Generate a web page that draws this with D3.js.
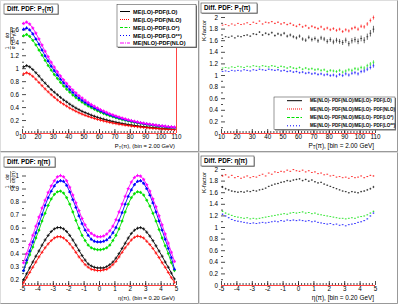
<!DOCTYPE html>
<html>
<head>
<meta charset="utf-8">
<script src="https://cdn.jsdelivr.net/npm/d3@7"></script>
<style>
body { margin: 0; background: #fff; }
svg text { font-family: "Liberation Sans", Arial, sans-serif; }
</style>
</head>
<body>
<svg id="c" width="399" height="304"></svg>
<script>
// ---- data ----
// bin centres: 2 GeV bins on 10..110, 0.2 bins on -5..5
var ptBins = d3.range(50).map(function(i) { return 11 + 2 * i; });
var etaBins = d3.range(50).map(function(i) { return -4.9 + 0.2 * i; });

var seriesNames = ["ME(LO)-PDF(LO)", "ME(LO)-PDF(NLO)", "ME(LO)-PDF(LO*)", "ME(LO)-PDF(LO**)", "ME(NLO)-PDF(NLO)"];
var ratioNames = ["ME(NLO)- PDF(NLO)/ME(LO)- PDF(LO)", "ME(NLO)- PDF(NLO)/ME(LO)- PDF(NLO)",
                  "ME(NLO)- PDF(NLO)/ME(LO)- PDF(LO*)", "ME(NLO)- PDF(NLO)/ME(LO)- PDF(LO**)"];
var colors = ["#000000", "#ff0000", "#00e000", "#0000ff", "#ff00ff"];
var dashes = ["none", "1,1", "3,1.5", "1,2", "4,1,1,1"];

// 1/sigma dsigma/dpT
var ptBlack = [1.02,1.04,1.02,0.98,0.93,0.88,0.82,0.77,0.72,0.67,0.63,0.59,0.55,0.51,0.48,0.445,0.415,0.385,0.36,0.335,0.315,0.295,0.275,0.258,0.242,0.227,0.213,0.2,0.188,0.177,0.166,0.156,0.147,0.138,0.13,0.123,0.116,0.109,0.103,0.097,0.092,0.087,0.082,0.078,0.074,0.07,0.066,0.063,0.06,0.057];
var ptRed = [0.91,0.93,0.91,0.875,0.83,0.78,0.73,0.68,0.635,0.59,0.55,0.51,0.475,0.445,0.415,0.385,0.36,0.335,0.312,0.292,0.273,0.256,0.24,0.225,0.211,0.198,0.186,0.175,0.164,0.154,0.145,0.137,0.129,0.122,0.115,0.108,0.102,0.097,0.092,0.087,0.082,0.078,0.074,0.07,0.066,0.063,0.06,0.057,0.054,0.051];
var ptGreen = [1.5,1.52,1.49,1.43,1.36,1.28,1.2,1.12,1.04,0.97,0.9,0.84,0.78,0.725,0.675,0.63,0.585,0.545,0.51,0.475,0.445,0.415,0.39,0.365,0.342,0.32,0.3,0.282,0.265,0.249,0.234,0.22,0.207,0.195,0.184,0.173,0.163,0.154,0.145,0.137,0.13,0.123,0.116,0.11,0.104,0.098,0.093,0.088,0.084,0.08];
var ptBlue = [1.6,1.62,1.59,1.53,1.45,1.37,1.28,1.19,1.11,1.03,0.96,0.895,0.83,0.775,0.72,0.67,0.625,0.58,0.54,0.505,0.472,0.442,0.414,0.388,0.364,0.341,0.32,0.3,0.282,0.265,0.249,0.234,0.22,0.207,0.195,0.184,0.174,0.164,0.155,0.146,0.138,0.131,0.124,0.117,0.111,0.105,0.1,0.095,0.09,0.086];
var ptMag = [1.69,1.71,1.68,1.62,1.54,1.45,1.355,1.26,1.175,1.09,1.015,0.945,0.88,0.82,0.765,0.712,0.664,0.62,0.578,0.54,0.504,0.471,0.44,0.412,0.386,0.361,0.338,0.317,0.297,0.279,0.262,0.246,0.231,0.217,0.204,0.192,0.181,0.17,0.16,0.151,0.143,0.135,0.128,0.121,0.115,0.109,0.104,0.099,0.094,0.09];

// 1/sigma dsigma/deta
var etaBlack = [0.2,0.245,0.29,0.335,0.38,0.42,0.465,0.505,0.54,0.57,0.59,0.6,0.6,0.59,0.57,0.54,0.505,0.465,0.425,0.385,0.35,0.32,0.305,0.295,0.29,
                0.29,0.29,0.3,0.315,0.335,0.365,0.4,0.44,0.48,0.52,0.555,0.58,0.595,0.6,0.59,0.565,0.535,0.5,0.46,0.42,0.38,0.335,0.295,0.25,0.205];
var etaRed = [0.175,0.215,0.255,0.295,0.335,0.375,0.41,0.445,0.475,0.5,0.52,0.53,0.53,0.52,0.5,0.475,0.445,0.41,0.375,0.345,0.315,0.295,0.28,0.275,0.27,
              0.27,0.275,0.28,0.295,0.315,0.34,0.375,0.41,0.445,0.475,0.505,0.525,0.535,0.53,0.52,0.495,0.47,0.44,0.405,0.37,0.33,0.295,0.255,0.215,0.18];
var etaGreen = [0.27,0.33,0.39,0.45,0.52,0.58,0.65,0.71,0.77,0.82,0.855,0.875,0.88,0.865,0.83,0.78,0.72,0.655,0.595,0.54,0.5,0.465,0.445,0.435,0.43,
                0.43,0.435,0.445,0.465,0.5,0.54,0.59,0.65,0.72,0.78,0.83,0.86,0.875,0.87,0.85,0.81,0.765,0.71,0.65,0.585,0.52,0.46,0.4,0.33,0.27];
var etaBlue = [0.27,0.35,0.42,0.49,0.56,0.63,0.7,0.77,0.83,0.88,0.92,0.95,0.96,0.955,0.925,0.875,0.815,0.755,0.69,0.63,0.58,0.54,0.51,0.495,0.49,
               0.49,0.495,0.505,0.525,0.56,0.6,0.655,0.715,0.78,0.84,0.89,0.93,0.955,0.96,0.94,0.9,0.85,0.79,0.72,0.65,0.58,0.51,0.44,0.37,0.28];
var etaMag = [0.33,0.4,0.47,0.54,0.61,0.68,0.75,0.81,0.87,0.92,0.96,0.99,1.0,0.99,0.96,0.91,0.85,0.79,0.73,0.67,0.62,0.58,0.555,0.54,0.53,
              0.53,0.535,0.55,0.575,0.61,0.66,0.72,0.78,0.84,0.9,0.95,0.985,1.0,0.995,0.97,0.93,0.88,0.82,0.76,0.69,0.62,0.55,0.48,0.41,0.34];

// K-factors vs pT
var kPtBlack = [1.63,1.66,1.65,1.67,1.64,1.67,1.66,1.68,1.69,1.67,1.71,1.7,1.74,1.69,1.72,1.7,1.73,1.68,1.71,1.69,1.72,1.67,1.69,1.66,1.64,1.67,1.62,1.6,1.65,1.61,1.63,1.59,1.64,1.62,1.58,1.61,1.57,1.6,1.58,1.56,1.6,1.54,1.59,1.61,1.58,1.63,1.6,1.66,1.72,1.79];
var kPtRed = [1.86,1.87,1.85,1.88,1.86,1.89,1.87,1.88,1.9,1.87,1.91,1.89,1.93,1.88,1.91,1.9,1.92,1.89,1.91,1.88,1.9,1.87,1.89,1.86,1.84,1.87,1.83,1.85,1.81,1.84,1.82,1.8,1.83,1.79,1.81,1.78,1.8,1.77,1.79,1.75,1.78,1.76,1.8,1.82,1.79,1.84,1.83,1.88,1.94,1.99];
var kPtGreen = [1.12,1.13,1.12,1.14,1.13,1.15,1.14,1.13,1.15,1.14,1.16,1.15,1.14,1.16,1.15,1.14,1.16,1.15,1.13,1.15,1.14,1.12,1.14,1.12,1.11,1.13,1.1,1.12,1.1,1.11,1.09,1.1,1.08,1.09,1.06,1.08,1.07,1.06,1.08,1.05,1.07,1.09,1.08,1.11,1.1,1.13,1.12,1.16,1.19,1.22];
var kPtBlue = [1.06,1.07,1.06,1.08,1.07,1.08,1.07,1.09,1.08,1.07,1.09,1.08,1.1,1.09,1.08,1.1,1.09,1.08,1.09,1.07,1.08,1.06,1.07,1.05,1.06,1.04,1.05,1.03,1.04,1.02,1.03,1.01,1.02,1.0,1.01,0.99,1.0,0.98,1.01,0.99,1.02,1.0,1.03,1.04,1.02,1.06,1.07,1.1,1.13,1.16];
var kPtErr = [0.008,0.008,0.008,0.009,0.009,0.01,0.01,0.011,0.012,0.012,0.013,0.014,0.015,0.016,0.017,0.018,0.019,0.02,0.021,0.022,0.023,0.024,0.025,0.026,0.027,0.028,0.03,0.031,0.032,0.033,0.034,0.035,0.036,0.037,0.038,0.039,0.04,0.041,0.042,0.043,0.044,0.045,0.046,0.047,0.048,0.05,0.052,0.054,0.056,0.058];

// K-factors vs eta
var kEtaBlack = [1.69,1.66,1.64,1.62,1.61,1.6,1.61,1.6,1.62,1.61,1.63,1.62,1.64,1.65,1.67,1.7,1.72,1.74,1.75,1.77,1.78,1.8,1.79,1.81,1.82,1.83,1.8,1.82,1.79,1.81,1.78,1.76,1.77,1.74,1.72,1.7,1.68,1.66,1.64,1.62,1.61,1.59,1.61,1.6,1.59,1.61,1.62,1.64,1.66,1.69];
var kEtaRed = [1.88,1.9,1.86,1.89,1.85,1.87,1.84,1.86,1.88,1.85,1.87,1.86,1.89,1.91,1.88,1.93,1.91,1.95,1.94,1.96,1.95,1.98,1.96,1.99,1.97,1.96,1.98,1.95,1.97,1.94,1.95,1.92,1.93,1.9,1.91,1.88,1.89,1.86,1.87,1.85,1.86,1.84,1.87,1.85,1.86,1.88,1.85,1.87,1.89,1.88];
var kEtaGreen = [1.27,1.24,1.22,1.2,1.18,1.17,1.16,1.15,1.16,1.14,1.15,1.14,1.15,1.16,1.17,1.18,1.19,1.2,1.21,1.22,1.23,1.22,1.24,1.25,1.24,1.25,1.26,1.24,1.25,1.23,1.24,1.22,1.21,1.2,1.19,1.18,1.17,1.16,1.15,1.15,1.14,1.15,1.16,1.15,1.17,1.18,1.19,1.21,1.24,1.27];
var kEtaBlue = [1.22,1.19,1.16,1.13,1.11,1.1,1.09,1.08,1.07,1.06,1.07,1.06,1.07,1.08,1.07,1.08,1.09,1.1,1.09,1.11,1.1,1.12,1.11,1.12,1.11,1.12,1.11,1.1,1.11,1.09,1.1,1.08,1.07,1.06,1.05,1.06,1.04,1.05,1.03,1.04,1.02,1.04,1.05,1.06,1.08,1.09,1.11,1.14,1.19,1.24];
var kEtaErr = [0.02,0.018,0.016,0.015,0.014,0.013,0.012,0.012,0.012,0.011,0.011,0.011,0.011,0.011,0.011,0.012,0.012,0.012,0.013,0.013,0.013,0.014,0.014,0.014,0.014,0.014,0.014,0.014,0.014,0.013,0.013,0.013,0.012,0.012,0.012,0.011,0.011,0.011,0.011,0.011,0.011,0.012,0.012,0.012,0.013,0.014,0.015,0.016,0.018,0.02];

// axis ticks
var ptTicks = [10,20,30,40,50,60,70,80,90,100,110];
var etaTicks = [-5,-4,-3,-2,-1,0,1,2,3,4,5];
var ptYTicks = [0,0.2,0.4,0.6,0.8,1,1.2,1.4,1.6];
var etaYTicks = [0.2,0.3,0.4,0.5,0.6,0.7,0.8,0.9,1];
var kYTicks = [0,0.2,0.4,0.6,0.8,1,1.2,1.4,1.6,1.8,2];

var svg = d3.select("#c");
var FL = 22, FR = 176, FT = 17, FB = 133;   // frame inside each pad

function makePad(ox, oy) {
  var g = svg.append("g").attr("transform", "translate(" + ox + "," + oy + ")");
  g.append("rect").attr("x", 0.5).attr("y", 0.5).attr("width", 198).attr("height", 151)
    .attr("fill", "#fff").attr("stroke", "#ddd");
  g.append("path").attr("d", "M198.5,0.5V151.5H0.5").attr("fill", "none").attr("stroke", "#999");
  return g;
}

function drawAxes(g, x, y, xt, xMinor, yt, yMinor) {
  g.append("g").attr("transform", "translate(0," + FB + ")")
    .call(d3.axisBottom(x).tickValues(xt).tickSize(-4).tickPadding(2).tickFormat(function(d) { return String(d); }));
  g.append("g").attr("transform", "translate(0," + FB + ")")
    .call(d3.axisBottom(x).tickValues(xMinor).tickSize(-2).tickFormat(""));
  g.append("g").attr("transform", "translate(" + FL + ",0)")
    .call(d3.axisLeft(y).tickValues(yt).tickSize(-4).tickPadding(3).tickFormat(function(d) { return String(d); }));
  g.append("g").attr("transform", "translate(" + FL + ",0)")
    .call(d3.axisLeft(y).tickValues(yMinor).tickSize(-2).tickFormat(""));
  g.selectAll(".domain").remove();
  g.selectAll(".tick line").attr("stroke", "#000").attr("stroke-width", 0.7);
  g.selectAll(".tick text").attr("font-size", "6.3px").attr("font-family", "Liberation Sans, Arial, sans-serif").attr("fill", "#000");
}

function titleBox(g, x0, y0, w, h, label, sub, rest) {
  g.append("rect").attr("x", x0 + 0.8).attr("y", y0 + 0.8).attr("width", w).attr("height", h).attr("fill", "#888");
  g.append("rect").attr("x", x0).attr("y", y0).attr("width", w).attr("height", h)
    .attr("fill", "#fff").attr("stroke", "#444").attr("stroke-width", 0.6);
  var t = g.append("text").attr("x", x0 + 3).attr("y", y0 + h - 2.6).attr("font-size", "6.3px").attr("font-weight", "bold");
  t.append("tspan").text(label);
  if (sub) t.append("tspan").attr("font-size", "4.5px").attr("dy", 1.3).text(sub);
  t.append("tspan").attr("dy", sub ? -1.3 : 0).text(rest);
}

function xTitle(g, main, sub, rest, size) {
  var t = g.append("text").attr("x", 175).attr("y", 147.5).attr("text-anchor", "end").attr("font-size", size + "px");
  t.append("tspan").text(main);
  if (sub) t.append("tspan").attr("font-size", (size * 0.7) + "px").attr("dy", 1.2).text(sub);
  t.append("tspan").attr("dy", sub ? -1.2 : 0).text(rest);
}

// fraction style y title: 1/sigma dsigma/dX
function fracTitle(g, px, py, denom, sub, rest) {
  var r = g.append("g").attr("transform", "translate(" + px + "," + py + ") rotate(-90)")
    .attr("font-size", "4.8px").attr("text-anchor", "middle");
  r.append("text").attr("x", 2.2).attr("y", -1.2).text("1");
  r.append("line").attr("x1", 0.4).attr("x2", 4).attr("y1", 0).attr("y2", 0).attr("stroke", "#000").attr("stroke-width", 0.4);
  r.append("text").attr("x", 2.2).attr("y", 4.2).text("\u03c3");
  var w = sub ? 17 : 12;
  r.append("text").attr("x", 6 + w / 2).attr("y", -1.2).text("d\u03c3");
  r.append("line").attr("x1", 6).attr("x2", 6 + w).attr("y1", 0).attr("y2", 0).attr("stroke", "#000").attr("stroke-width", 0.4);
  var t = r.append("text").attr("x", 6 + w / 2).attr("y", 4.2);
  t.append("tspan").text(denom);
  if (sub) t.append("tspan").attr("font-size", "3.4px").attr("dy", 0.8).text(sub);
  t.append("tspan").attr("dy", sub ? -0.8 : 0).text(rest);
}

function kTitle(g, px, py) {
  g.append("text").attr("transform", "translate(" + px + "," + py + ") rotate(-90)")
    .attr("text-anchor", "end").attr("font-size", "6px").text("K-factor");
}

var markerTypes = [d3.symbolCross, d3.symbolCross, d3.symbolCircle, d3.symbolTriangle, d3.symbolStar];

function drawCurves(g, x, y, xs, list, hw) {
  list.forEach(function(vals, k) {
    var pts = xs.map(function(v, i) { return [v, vals[i]]; });
    g.append("path").attr("d", d3.line().x(function(d) { return x(d[0]); }).y(function(d) { return y(d[1]); })(pts))
      .attr("fill", "none").attr("stroke", colors[k]).attr("stroke-width", 0.9);
    var m = g.append("g").attr("stroke", colors[k]).attr("stroke-width", 0.7);
    pts.forEach(function(p) {
      var cx = x(p[0]), cy = y(p[1]);
      m.append("line").attr("x1", x(p[0] - hw)).attr("x2", x(p[0] + hw)).attr("y1", cy).attr("y2", cy);
      m.append("line").attr("x1", cx).attr("x2", cx).attr("y1", cy - 1.6).attr("y2", cy + 1.6);
      if (k >= 2) {
        g.append("path").attr("d", d3.symbol().type(markerTypes[k]).size(4)())
          .attr("transform", "translate(" + cx + "," + cy + ")").attr("fill", colors[k]);
      }
    });
  });
}

function drawRatios(g, x, y, xs, list, errs, hw) {
  list.forEach(function(vals, k) {
    var m = g.append("g").attr("stroke", colors[k]).attr("stroke-width", 0.6);
    xs.forEach(function(v, i) {
      var cy = y(vals[i]);
      m.append("line").attr("x1", x(v - hw * 0.6)).attr("x2", x(v + hw * 0.6)).attr("y1", cy).attr("y2", cy);
      var e = (k === 0 ? 1 : 0.6) * (y(0) - y(errs[i]));
      m.append("line").attr("x1", x(v)).attr("x2", x(v)).attr("y1", cy - e).attr("y2", cy + e);
    });
  });
}

function legendBox(g, x0, y0, w, h, names, rowY, lx1, lx2, tx, fs) {
  g.append("rect").attr("x", x0 + 1).attr("y", y0 + 1).attr("width", w).attr("height", h).attr("fill", "#777");
  g.append("rect").attr("x", x0).attr("y", y0).attr("width", w).attr("height", h)
    .attr("fill", "#fff").attr("stroke", "#333").attr("stroke-width", 0.5);
  names.forEach(function(n, k) {
    g.append("line").attr("x1", lx1).attr("x2", lx2).attr("y1", rowY[k]).attr("y2", rowY[k])
      .attr("stroke", colors[k]).attr("stroke-width", 1).attr("stroke-dasharray", dashes[k]);
    g.append("text").attr("x", tx).attr("y", rowY[k] + fs * 0.36).attr("font-size", fs + "px")
      .attr("font-weight", "bold").text(n);
  });
}

// ---- top left: dsigma/dpT ----
var g1 = makePad(0, 0);
var x1 = d3.scaleLinear().domain([10, 110]).range([FL, FR]);
var y1 = d3.scaleLinear().domain([0, 1.79]).range([FB, FT]);
drawAxes(g1, x1, y1, ptTicks, d3.range(12, 110, 2), ptYTicks, d3.range(0.1, 1.75, 0.2));
drawCurves(g1, x1, y1, ptBins, [ptBlack, ptRed, ptGreen, ptBlue, ptMag], 1);
g1.append("line").attr("x1", FL).attr("x2", FR).attr("y1", FB + 0.5).attr("y2", FB + 0.5).attr("stroke", "#f44").attr("stroke-width", 1);
g1.append("line").attr("x1", FR + 0.5).attr("x2", FR + 0.5).attr("y1", 47).attr("y2", FB).attr("stroke", "#f44").attr("stroke-width", 1);
legendBox(g1, 117, 4.5, 79, 42.5, seriesNames, [11.5, 19.5, 27.5, 35.5, 43], 120, 130, 133, 5.6);
titleBox(g1, 4, 4, 54, 10, "Diff. PDF:  P", "T", "(\u03c0)");
xTitle(g1, "P", "T", "(\u03c0), (bin =  2.00 GeV)", 5.8);
fracTitle(g1, 10.5, 50, "dP", "T", "(\u03c0)");

// ---- top right: K-factor vs pT ----
var g2 = makePad(199, 0);
var x2 = d3.scaleLinear().domain([10, 110]).range([FL, FR]);
var y2 = d3.scaleLinear().domain([0, 2]).range([FB, FT]);
drawAxes(g2, x2, y2, ptTicks, d3.range(12, 110, 2), kYTicks, d3.range(0.1, 2, 0.2));
drawRatios(g2, x2, y2, ptBins, [kPtBlack, kPtRed, kPtGreen, kPtBlue], kPtErr, 1);
g2.append("line").attr("x1", FL).attr("x2", FR).attr("y1", FB + 0.5).attr("y2", FB + 0.5).attr("stroke", "#f44").attr("stroke-width", 1);
legendBox(g2, 75, 97, 121, 32.5, ratioNames, [100.7, 109, 117.5, 125.8], 88, 103, 111, 4.5);
titleBox(g2, 2, 3, 56, 10, "Diff. PDF:  P", "T", "(\u03c0)");
xTitle(g2, "P", "T", "(\u03c0), [bin =  2.00 GeV]", 6.4);
kTitle(g2, 6.5, 20);

// ---- bottom left: dsigma/deta ----
var g3 = makePad(0, 152);
var x3 = d3.scaleLinear().domain([-5, 5]).range([FL, FR]);
var y3 = d3.scaleLinear().domain([0.159, 1.05]).range([FB, FT]);
drawAxes(g3, x3, y3, etaTicks, d3.range(-4.8, 5, 0.2), etaYTicks, d3.range(0.25, 1.05, 0.1));
drawCurves(g3, x3, y3, etaBins, [etaBlack, etaRed, etaGreen, etaBlue, etaMag], 0.1);
g3.append("line").attr("x1", FL).attr("x2", FR).attr("y1", FB + 0.5).attr("y2", FB + 0.5).attr("stroke", "#f44").attr("stroke-width", 1);
titleBox(g3, 4, 5, 51, 10, "Diff. PDF: \u03b7(\u03c0)", null, "");
xTitle(g3, "\u03b7(\u03c0), (bin =  0.20 GeV)", null, "", 5.8);
fracTitle(g3, 10.5, 37, "d\u03b7(\u03c0)", null, "");

// ---- bottom right: K-factor vs eta ----
var g4 = makePad(199, 152);
var x4 = d3.scaleLinear().domain([-5, 5]).range([FL, FR]);
var y4 = d3.scaleLinear().domain([0, 2]).range([FB, FT]);
drawAxes(g4, x4, y4, etaTicks, d3.range(-4.8, 5, 0.2), kYTicks, d3.range(0.1, 2, 0.2));
drawRatios(g4, x4, y4, etaBins, [kEtaBlack, kEtaRed, kEtaGreen, kEtaBlue], kEtaErr, 0.1);
g4.append("line").attr("x1", FL).attr("x2", FR).attr("y1", FB + 0.5).attr("y2", FB + 0.5).attr("stroke", "#f44").attr("stroke-width", 1);
titleBox(g4, 2, 4, 53, 10, "Diff. PDF: \u03b7(\u03c0)", null, "");
xTitle(g4, "\u03b7(\u03c0), [bin =  0.20 GeV]", null, "", 6.4);
kTitle(g4, 6.5, 20);
</script>
</body>
</html>
